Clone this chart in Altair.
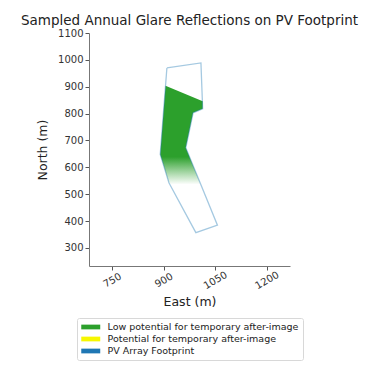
import altair as alt
import pandas as pd

# PV array footprint outline (East, North in m)
foot_x = [909.7, 1008.8, 1013.8, 986.0, 964.7, 1056.8, 994.0, 915.6, 890.3, 909.7]
foot_y = [970.0, 988.5, 818.0, 803.0, 673.0, 385.0, 357.0, 543.0, 648.0, 970.0]

# Region covered by sampled glare reflections (low potential)
glare_x = [905.7, 1014.0, 1013.8, 986.0, 964.7, 1008.5, 918.6, 915.6, 890.3, 905.7]
glare_y = [904.0, 846.0, 818.0, 803.0, 673.0, 536.0, 536.0, 543.0, 648.0, 904.0]

legend_labels = [
    "Low potential for temporary after-image",
    "Potential for temporary after-image",
    "PV Array Footprint",
]
legend_colors = ["#2ca02c", "#f7f700", "#1f77b4"]

x_ticks = [750, 900, 1050, 1200]
y_ticks = [300, 400, 500, 600, 700, 800, 900, 1000, 1100]

foot = pd.DataFrame({"x": foot_x, "y": foot_y, "o": list(range(len(foot_x)))})
glare = pd.DataFrame({"x": glare_x, "y": glare_y, "o": list(range(len(glare_x)))})
leg = pd.DataFrame({"cat": legend_labels})

xs = alt.Scale(domain=[683, 1268], nice=False, zero=False)
ys = alt.Scale(domain=[233, 1100], nice=False, zero=False)

xenc = alt.X("x:Q", scale=xs, title="East (m)",
             axis=alt.Axis(values=x_ticks, format="d", labelAngle=-30, labelAlign="center",
                           labelBaseline="middle", labelPadding=10, titlePadding=5,
                           labelOverlap=False))
yenc = alt.Y("y:Q", scale=ys, title="North (m)",
             axis=alt.Axis(values=y_ticks, format="d", titlePadding=8, labelOverlap=False,
                           tickCount=len(y_ticks)))

grad = alt.Gradient(
    gradient="linear",
    stops=[
        alt.GradientStop(offset=0, color="#2ca02c"),
        alt.GradientStop(offset=0.72, color="#2ca02c"),
        alt.GradientStop(offset=0.87, color="rgba(44,160,44,0.45)"),
        alt.GradientStop(offset=1, color="rgba(44,160,44,0)"),
    ],
    x1=0, x2=0, y1=0, y2=1,
)

glare_layer = alt.Chart(glare).mark_line(fill=grad, strokeWidth=0, stroke="transparent").encode(
    x=xenc, y=yenc, order="o:Q"
)
foot_layer = alt.Chart(foot).mark_line(color="#1f77b4", opacity=0.4, strokeWidth=1.3).encode(
    x=xenc, y=yenc, order="o:Q"
)
legend_layer = alt.Chart(leg).mark_square(opacity=0).encode(
    color=alt.Color(
        "cat:N",
        scale=alt.Scale(domain=legend_labels, range=legend_colors),
        legend=alt.Legend(
            title=None, orient="none", legendX=-12, legendY=285, direction="vertical",
            symbolType="M-1,-0.5H3V0.5H-1Z", symbolSize=90, symbolOpacity=1,
            symbolStrokeWidth=0, labelFontSize=9.5, labelFont="DejaVu Sans",
            labelColor="#222", labelLimit=300, padding=4, rowPadding=2,
            strokeColor="#d8d8d8", fillColor="white", cornerRadius=2, labelOffset=16.5,
        ),
    )
)

chart = alt.layer(glare_layer, foot_layer, legend_layer).properties(
    width=201, height=233,
    title=alt.Title("Sampled Annual Glare Reflections on PV Footprint",
                    font="DejaVu Sans", fontSize=13.5, fontWeight="normal",
                    color="#222", anchor="middle", offset=1),
    autosize=alt.AutoSizeParams(type="none"),
    padding={"left": 81, "top": 25, "right": 70, "bottom": 100},
).configure_view(stroke=None).configure_axis(
    grid=False, domainColor="#777", tickColor="#555", tickSize=4, labelOverlap=False,
    labelFont="DejaVu Sans", labelFontSize=10, labelColor="#333",
    titleFont="DejaVu Sans", titleFontSize=12.5, titleFontWeight="normal", titleColor="#222",
)

chart.save("out.html", embed_options={"renderer": "svg", "actions": False})
